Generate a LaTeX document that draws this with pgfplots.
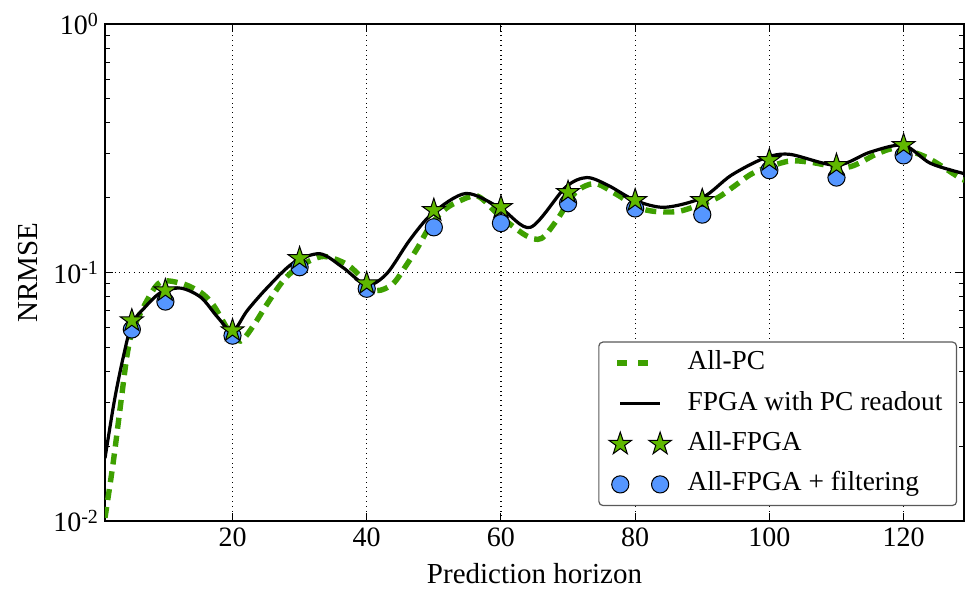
\documentclass[border=0pt]{standalone}
\usepackage{fontspec}
\setmainfont{Liberation Serif}
\usepackage{pgfplots}
\pgfplotsset{compat=1.18}
\definecolor{pcgreen}{RGB}{62,160,0}
\definecolor{stargreen}{RGB}{96,184,0}
\definecolor{circblue}{RGB}{85,150,255}
\newcommand\tensup[1]{10\raisebox{0.32em}{\fontsize{10}{12}\selectfont #1}}
\pgfdeclareplotmark{fstar}{%
  \pgfpathmoveto{\pgfpointpolar{90}{\pgfplotmarksize}}%
  \pgfpathlineto{\pgfpointpolar{126}{0.382\pgfplotmarksize}}%
  \pgfpathlineto{\pgfpointpolar{162}{\pgfplotmarksize}}%
  \pgfpathlineto{\pgfpointpolar{198}{0.382\pgfplotmarksize}}%
  \pgfpathlineto{\pgfpointpolar{234}{\pgfplotmarksize}}%
  \pgfpathlineto{\pgfpointpolar{270}{0.382\pgfplotmarksize}}%
  \pgfpathlineto{\pgfpointpolar{306}{\pgfplotmarksize}}%
  \pgfpathlineto{\pgfpointpolar{342}{0.382\pgfplotmarksize}}%
  \pgfpathlineto{\pgfpointpolar{18}{\pgfplotmarksize}}%
  \pgfpathlineto{\pgfpointpolar{54}{0.382\pgfplotmarksize}}%
  \pgfpathclose
  \pgfusepathqfillstroke}
\pgfplotsset{
  twomarks/.style={legend image code/.code={\draw[##1] plot coordinates {(0.05cm,0cm) (0.75cm,0cm)};}},
  oneline/.style={legend image code/.code={\draw[##1] (0.05cm,0cm) -- (0.75cm,0cm);}},
  twodash/.style={legend image code/.code={\draw[##1, line width=3.2pt, dash pattern=on 5pt off 5.5pt] (0.0cm,0cm) -- (0.55cm,0cm);}},
}
\begin{document}
\begin{tikzpicture}[font=\fontsize{14.5}{17}\selectfont]
\begin{semilogyaxis}[
  name=ax,
  scale only axis,
  width=429.5pt, height=248.5pt,
  xmin=1, xmax=129,
  ymin=0.01, ymax=1,
  xtick={20,40,60,80,100,120},
  ytick={0.01,0.1,1},
  yticklabels={\tensup{-2},\tensup{-1},\tensup{0}},
  /pgf/number format/assume math mode=true,
  tick label style={font=\fontsize{14}{17}\selectfont},
  tick align=inside,
  major tick length=4pt,
  minor tick length=2.5pt,
  tick style={black, line width=0.5pt},
  grid=major,
  major grid style={dotted, black, line width=0.6pt},
  axis line style={line width=0.9pt},
  xlabel={Prediction horizon},
  ylabel={NRMSE},
  xlabel style={at={(axis description cs:0.5,-0.1066)}, anchor=center},
  ylabel style={at={(axis description cs:-0.0896,0.5)}, anchor=center},
  legend cell align=left,
  legend style={at={(0.992,0.03)}, anchor=south east, draw=black!65, line width=0.6pt,
    rounded corners=2pt, fill=white, row sep=2.7pt, column sep=6pt, inner xsep=5pt, inner ysep=1.8pt,
    nodes={inner sep=2pt, text height=10pt, text depth=3.5pt},
    font=\fontsize{13.7}{16}\selectfont},
]
\addplot[pcgreen, line width=2.7pt, dash pattern=on 5.5pt off 3.5pt, smooth, twodash] coordinates {
(1,0.0103) (2.2,0.017) (3.4,0.0305) (4.4,0.0485) (5.5,0.062) (8.9,0.090) (12.3,0.0905)
(15.3,0.083) (17.2,0.0736) (19.5,0.058) (21.2,0.053) (23.1,0.061) (25.2,0.075) (27.6,0.093)
(30,0.106) (33.5,0.116) (37,0.108) (39.5,0.094) (41.5,0.0846) (43.9,0.09) (45.9,0.107)
(47.6,0.126) (49.5,0.155) (51.5,0.178) (53.3,0.191) (56.5,0.203) (59.7,0.17) (63.7,0.141)
(66,0.137) (68.3,0.162) (71.1,0.21) (74,0.228) (77,0.208) (80.4,0.183) (83,0.176)
(86.4,0.176) (89.3,0.186) (92.3,0.2) (95.3,0.228) (97.8,0.253) (102.7,0.28) (106,0.278)
(111.6,0.265) (116,0.30) (119,0.316) (123.4,0.291) (128.3,0.241) (129,0.236)};
\addlegendentry{All-PC}
\addplot[black, line width=1.6pt, smooth, oneline] coordinates {
(1,0.0179) (2.4,0.0305) (3.7,0.0454) (5,0.062) (6.9,0.0722) (9.3,0.083) (12.3,0.0865)
(15.3,0.0794) (17.8,0.066) (20,0.058) (22.2,0.0703) (25.2,0.087) (29,0.109) (33,0.119)
(36.4,0.105) (40,0.089) (43,0.099) (46.4,0.135) (49.8,0.173) (54.8,0.208) (60,0.181)
(64.4,0.152) (69.6,0.22) (72.8,0.241) (76,0.224) (80,0.195) (84.4,0.183) (90,0.2)
(94.3,0.246) (99.2,0.288) (103,0.299) (110,0.27) (115,0.305) (120,0.325) (124,0.275)
(129,0.25)};
\addlegendentry{FPGA with PC readout}
\addplot[only marks, mark=*, mark size=4.3pt, mark options={fill=circblue, draw=black, line width=0.5pt}, forget plot] coordinates {
(5,0.059) (10,0.0764) (20,0.0557) (30,0.105) (40,0.086) (50,0.152) (60,0.158)
(70,0.19) (80,0.181) (90,0.171) (100,0.258) (110,0.241) (120,0.296)};
\addplot[only marks, mark=fstar, mark size=6pt, mark options={fill=stargreen, draw=black, line width=0.5pt}, forget plot] coordinates {
(5,0.064) (10,0.0846) (20,0.0584) (30,0.1139) (40,0.0903) (50,0.178) (60,0.183)
(70,0.21) (80,0.195) (90,0.195) (100,0.283) (110,0.27) (120,0.325)};
\addlegendimage{only marks, mark=fstar, mark size=6pt, mark options={fill=stargreen, draw=black, line width=0.5pt}, twomarks}
\addlegendentry{All-FPGA}
\addlegendimage{only marks, mark=*, mark size=4.3pt, mark options={fill=circblue, draw=black, line width=0.5pt}, twomarks}
\addlegendentry{All-FPGA + filtering}
\end{semilogyaxis}
\pgfresetboundingbox
\useasboundingbox ([shift={(-52.5pt,-35.5pt)}]ax.south west) rectangle ([shift={(0.5pt,12pt)}]ax.north east);
\end{tikzpicture}
\end{document}
